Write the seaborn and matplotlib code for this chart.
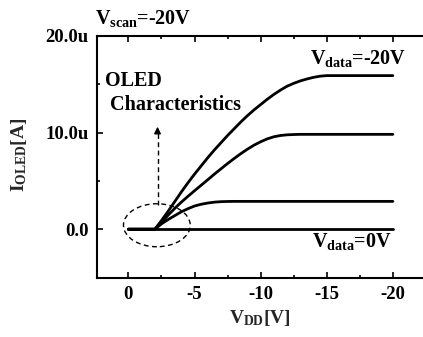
import numpy as np
import pandas as pd
import matplotlib
matplotlib.use("Agg")
import matplotlib.pyplot as plt
from matplotlib.patches import Ellipse
from matplotlib.ticker import MultipleLocator, FixedLocator
import seaborn as sns

# ---- data (I in microamps, VDD in volts) ----
vdd = [0, -1, -2, -2.5, -3, -3.5, -4, -4.5, -5, -5.5, -6, -6.5, -7, -7.5, -8, -8.5,
       -9, -9.5, -10, -10.5, -11, -11.5, -12, -12.5, -13, -13.5, -14, -14.5, -15, -16, -20]
i_data_m20 = [0, 0, 0, 0.9, 1.85, 2.85, 3.85, 4.8, 5.7, 6.55, 7.4, 8.2, 8.95, 9.7, 10.4, 11.1,
              11.75, 12.35, 12.9, 13.45, 13.95, 14.4, 14.8, 15.1, 15.35, 15.55, 15.72, 15.84, 15.9, 15.9, 15.9]
i_data_a = [0, 0, 0, 0.72, 1.45, 2.15, 2.8, 3.4, 3.98, 4.55, 5.12, 5.7, 6.25, 6.8, 7.32, 7.82,
            8.28, 8.7, 9.05, 9.35, 9.57, 9.7, 9.77, 9.8, 9.82, 9.82, 9.82, 9.82, 9.82, 9.82, 9.82]
i_data_b = [0, 0, 0, 0.55, 1.0, 1.4, 1.8, 2.12, 2.4, 2.58, 2.71, 2.8, 2.85, 2.87, 2.88, 2.88,
            2.88, 2.88, 2.88, 2.88, 2.88, 2.88, 2.88, 2.88, 2.88, 2.88, 2.88, 2.88, 2.88, 2.88, 2.88]
i_data_0 = [0] * len(vdd)
series_names = ["Vdata=-20V", "mid-high", "mid-low", "Vdata=0V"]
y_tick_values = [0, 10, 20]
y_tick_labels = ["0.0", "10.0u", "20.0u"]
x_tick_values = [0, -5, -10, -15, -20]
x_tick_labels = ["0", "-5", "-10", "-15", "-20"]

rows = []
for name, vals in zip(series_names, [i_data_m20, i_data_a, i_data_b, i_data_0]):
    for v, i in zip(vdd, vals):
        rows.append({"vdd": v, "current": i, "series": name})
df = pd.DataFrame(rows)

sns.set_style("ticks")
plt.rcParams["font.family"] = ["Liberation Serif", "DejaVu Serif"]
plt.rcParams["font.weight"] = "bold"
plt.rcParams["mathtext.fontset"] = "custom"
plt.rcParams["mathtext.rm"] = "Liberation Serif:bold"
plt.rcParams["mathtext.it"] = "Liberation Serif:bold"
plt.rcParams["mathtext.bf"] = "Liberation Serif:bold"

W, H = 423, 337
fig = plt.figure(figsize=(W / 100, H / 100), dpi=100)
ax_left, ax_right, ax_top, ax_bottom = 96.7, 432.5, 36.0, 277.5
ax = fig.add_axes([ax_left / W, 1 - ax_bottom / H, (ax_right - ax_left) / W, (ax_bottom - ax_top) / H])

sns.lineplot(data=df, x="vdd", y="current", hue="series", units="series",
             palette=["black"] * 4, estimator=None, sort=False, legend=False,
             linewidth=2.0, ax=ax)

ax.set_xlim(2.4, -23.0)
ax.set_ylim(-5, 20)

ax.xaxis.set_major_locator(FixedLocator(x_tick_values))
ax.set_xticklabels(x_tick_labels)
ax.xaxis.set_minor_locator(MultipleLocator(2.5))
ax.yaxis.set_major_locator(FixedLocator(y_tick_values))
ax.set_yticklabels(y_tick_labels)
ax.yaxis.set_minor_locator(MultipleLocator(5))

for s in ["left", "bottom", "top", "right"]:
    ax.spines[s].set_linewidth(1.5)
    ax.spines[s].set_color("black")
ax.tick_params(which="both", direction="in", top=True, right=False, width=1.2, colors="black")
ax.tick_params(which="major", length=4, labelsize=13.5, pad=6)
ax.tick_params(which="minor", length=2.5)
for lab in ax.get_xticklabels() + ax.get_yticklabels():
    lab.set_fontweight("bold")

ax.set_xlabel(r"$V_{DD}$[V]", fontsize=14, fontweight="bold")
ax.set_ylabel(r"$I_{OLED}$[A]", fontsize=14, fontweight="bold")
ax.xaxis.set_label_coords((259.5 - ax_left) / (ax_right - ax_left), (ax_bottom - 308) / (ax_bottom - ax_top))
ax.yaxis.set_label_coords((29 - ax_left) / (ax_right - ax_left), (ax_bottom - 155) / (ax_bottom - ax_top))

# annotations
txt_kw = dict(fontsize=14.5, fontweight="bold", color="black")
ax.text(-13.74, 17.13, r"$V_{data}$=-20V", ha="left", va="baseline", **txt_kw)
ax.text(-13.87, -1.83, r"$V_{data}$=0V", ha="left", va="baseline", **txt_kw)
ax.text(1.76, 14.79, "OLED", ha="left", va="baseline", **txt_kw)
ax.text(1.38, 12.3, "Characteristics", ha="left", va="baseline", **txt_kw)
fig.text(95 / W, 1 - 24 / H, r"$V_{scan}$=-20V", ha="left", va="baseline", **txt_kw)

dash = (0, (3.5, 2.5))
ax.add_patch(Ellipse((-2.15, 0.41), width=5.05, height=4.45, fill=False,
                     linestyle=dash, linewidth=1.0, edgecolor="black"))
ax.plot([-2.2, -2.2], [2.5, 10.3], color="black", linestyle=dash, linewidth=1.0)
ax.annotate("", xy=(-2.2, 10.9), xytext=(-2.2, 10.0),
            arrowprops=dict(arrowstyle="-|>", color="black", lw=1.0, mutation_scale=10))

fig.savefig("out.png", dpi=100)
